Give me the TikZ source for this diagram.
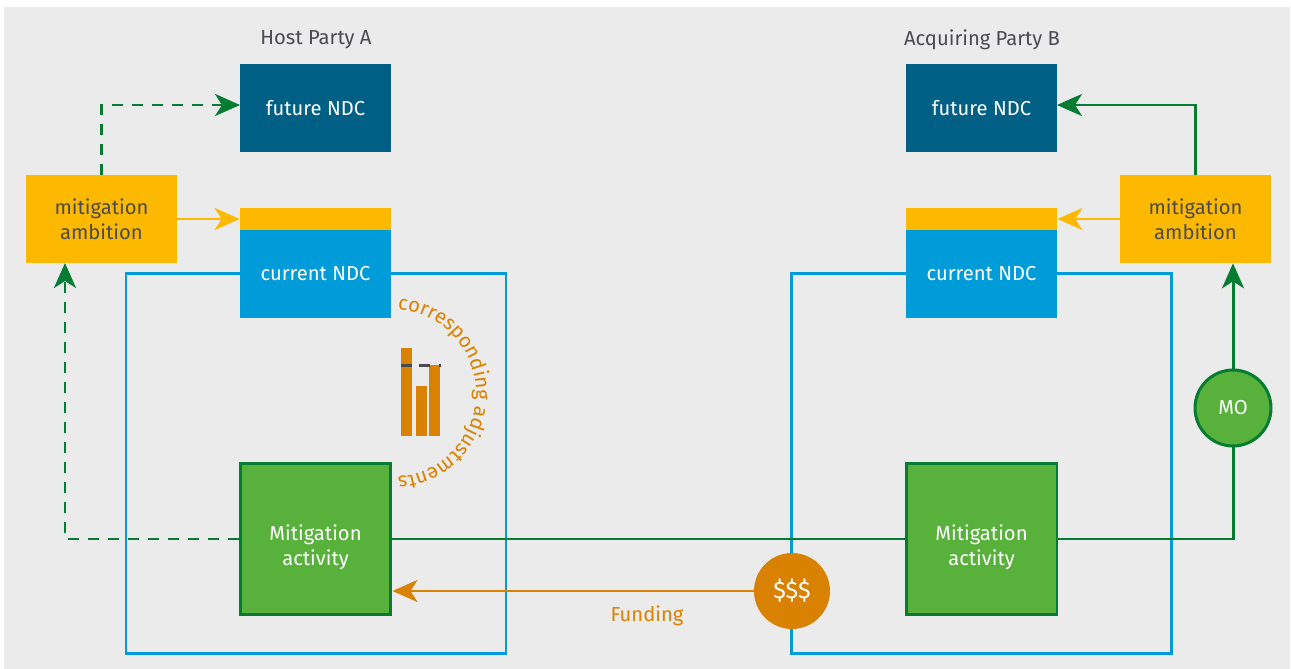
\documentclass[tikz,border=0pt]{standalone}
\usepackage{fontspec}
\setmainfont{Fira Sans}
\usepackage{xcolor}
\usetikzlibrary{
    arrows.meta,
    calc,
    decorations.text,
    positioning
}
\definecolor{panelgray}{HTML}{EBEBEB}
\definecolor{ndcdark}{HTML}{005F85}
\definecolor{ndcblue}{HTML}{009CDA}
\definecolor{ambyellow}{HTML}{FDB900}
\definecolor{actgreen}{HTML}{57B13B}
\definecolor{linegreen}{HTML}{067B32}
\definecolor{fundorange}{HTML}{D98100}
\definecolor{labelgray}{HTML}{4A4A50}
\newcommand{\labelfont}{\fontsize{11.5}{14.4}\selectfont}
\tikzset{
    every node/.style={font=\labelfont, align=center, inner sep=0pt},
    tip/.style={-{Stealth[length=0.5cm, width=0.44cm, inset=0.14cm]}},
    ndcbox/.style={minimum width=3.02cm, minimum height=1.76cm, text=white},
    ambbox/.style={ndcbox, fill=ambyellow, text=labelgray},
    strip/.style={minimum width=3.02cm, minimum height=0.44cm, fill=ambyellow},
    actbox/.style={minimum width=3.02cm, minimum height=3.04cm, fill=actgreen, draw=linegreen, line width=1.7pt, text=white, text height=33pt},
    frame/.style={minimum width=7.6cm, minimum height=7.6cm, draw=ndcblue, line width=1.5pt},
    round/.style={circle, minimum size=1.52cm, text=white},
    greenline/.style={draw=linegreen, line width=1.7pt},
    yellowline/.style={draw=ambyellow, line width=1.7pt},
    orangeline/.style={draw=fundorange, line width=1.7pt},
    greendash/.style={greenline, dash pattern=on 0.22cm off 0.18cm},
    bar/.style={fill=fundorange, draw=none}
}

\begin{document}
\begin{tikzpicture}[x=0.02cm, y=-0.02cm]
    \useasboundingbox (0, 0) rectangle (1291, 669);
    \fill[panelgray] (4, 7) rectangle (1290, 669);

    \node[frame] (hframe) at (316, 463.7) {};
    \node[frame] (bframe) at (981.5, 463.7) {};

    \node[text=labelgray] (hparty) at (316, 39.5) {Host Party A};
    \node[text=labelgray] (bparty) at (982, 39.5) {Acquiring Party B};

    \node[ndcbox, fill=ndcdark] (hfuture) at (315.5, 108) {future NDC};
    \node[ndcbox, fill=ndcdark] (bfuture) at (981.5, 108) {future NDC};
    \node[ambbox] (hamb) at (101.5, 219) {mitigation\\ambition};
    \node[ambbox] (bamb) at (1195.5, 219) {mitigation\\ambition};
    \node[strip] (hstrip) at (315.5, 219) {};
    \node[strip] (bstrip) at (981.5, 219) {};
    \node[ndcbox, fill=ndcblue] (hcur) at (315.5, 274) {current NDC};
    \node[ndcbox, fill=ndcblue] (bcur) at (981.5, 274) {current NDC};
    \node[actbox] (hact) at (315.5, 539) {Mitigation\\activity};
    \node[actbox] (bact) at (981.5, 539) {Mitigation\\activity};
    \node[round, fill=actgreen, draw=linegreen, line width=1.7pt] (mo) at (1233, 408) {MO};
    \node[round, fill=fundorange, font=\fontsize{13.5}{16}\selectfont] (money) at (792, 591) {\$\$\$};
    \node[text=fundorange] (funding) at (647, 616) {Funding};

    \coordinate (hin) at (240, 105);
    \coordinate (bin) at (1057, 105);
    \coordinate (hback) at (65, 263);

    \draw[greenline] (hact.east) -- (bact.west);
    \draw[greenline] (bact.east) -| (mo.south);
    \draw[greenline, tip] (mo.north) -- (mo |- bamb.south);
    \draw[greenline, tip] (bamb.north) |- (bin);
    \draw[greendash, tip] (hamb.north) |- (hin);
    \draw[greendash, tip] (hact.west) -| (hback);
    \draw[yellowline, tip] (hamb.east) -- (hstrip.west);
    \draw[yellowline, tip] (bamb.west) -- (bstrip.east);
    \draw[orangeline, tip] (money.west) -- (money -| hact.east);

    \fill[bar] (401, 348) rectangle (412, 436);
    \fill[bar] (416, 386) rectangle (427, 436);
    \fill[bar] (429, 365) rectangle (440, 436);
    \fill[labelgray] (401, 364) rectangle (412, 366.5);
    \fill[labelgray] (419, 364) rectangle (430, 366.5);
    \fill[labelgray] (438.5, 364) rectangle (440.5, 366.5);

    \path[decorate, decoration={text along path, text align=center,
        text={|\labelfont\color{fundorange}|corresponding adjustments}}]
        (392, 309) arc[start angle=90, end angle=-90, radius=1.68cm];
\end{tikzpicture}
\end{document}
